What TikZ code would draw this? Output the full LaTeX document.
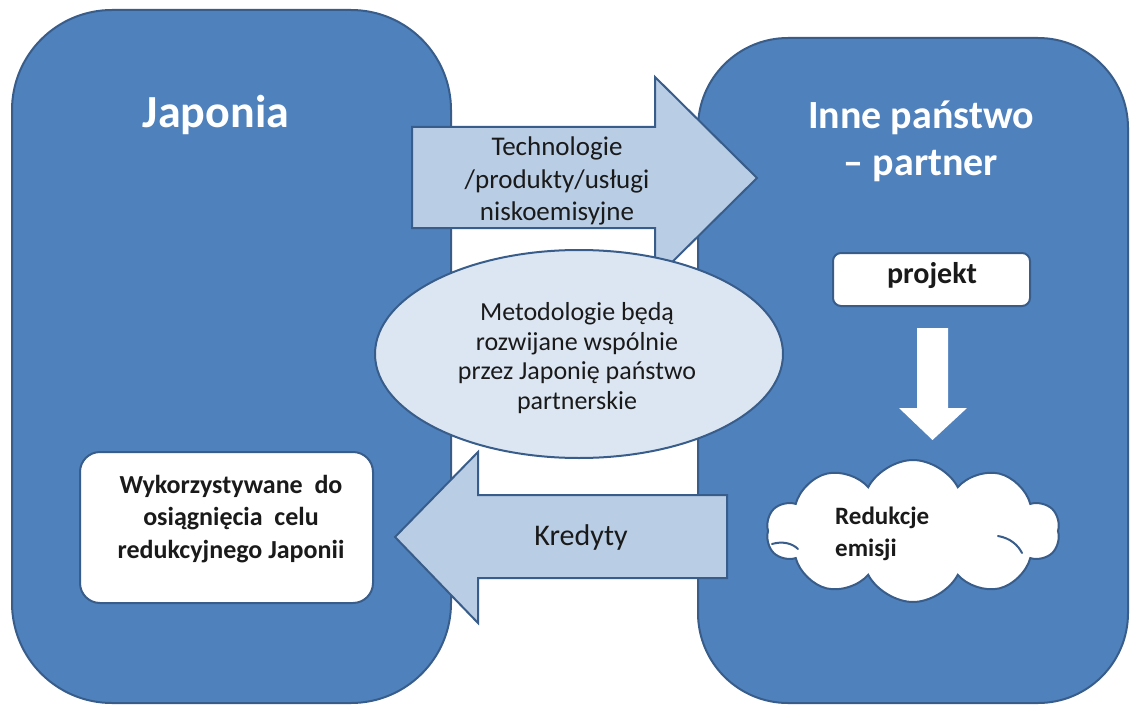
\documentclass[tikz,border=0pt]{standalone}
\usepackage{fontspec}
\setmainfont{Carlito}
\usetikzlibrary{shapes.geometric,shapes.symbols}
\definecolor{boxblue}{HTML}{4F81BD}
\definecolor{boxedge}{HTML}{385D8A}
\definecolor{arrowfill}{HTML}{B9CDE5}
\definecolor{ellfill}{HTML}{DCE6F2}
\definecolor{txt}{HTML}{1A1A1A}
\begin{document}
\begin{tikzpicture}[x=1pt,y=-1pt,
  bigbox/.style={draw=boxedge, fill=boxblue, line width=2pt, inner sep=0pt},
  whitebox/.style={draw=boxedge, fill=white, line width=2pt, inner sep=0pt},
  bigarrow/.style={draw=boxedge, fill=arrowfill, line width=2pt, line join=miter},
  cloudarc/.style={draw=boxedge, line width=2pt, line cap=round},
  title/.style={text=white, font=\fontsize{46}{52}\selectfont\bfseries, inner sep=0pt},
  bodytext/.style={text=txt, font=\fontsize{27}{32.5}\selectfont, inner sep=0pt, align=center},
  boldtext/.style={text=txt, font=\fontsize{26}{32.5}\selectfont\bfseries, inner sep=0pt, align=center}
]
\path[use as bounding box, fill=white] (0,0) rectangle (1132,706);

% big boxes
\node[bigbox, rounded corners=100pt, minimum width=439pt, minimum height=693pt] (jp) at (231.5,356.5) {};
\node[bigbox, rounded corners=90pt, minimum width=430pt, minimum height=665pt] (pt) at (913,370.5) {};

% titles
\node[title, anchor=base] (jpt) at (216,128) {Japonia};
\node[title, font=\fontsize{40}{47}\selectfont\bfseries, align=center] (ptt) at (921,141) {Inne państwo\\– partner};

% right arrow
\draw[bigarrow] (412,127) -- (655,127) -- (655,77) -- (757,178) -- (655,279) -- (655,228) -- (412,228) -- cycle;
\node[bodytext] (tech) at (557,181) {Technologie\\/produkty/usługi\\niskoemisyjne};

% left arrow
\draw[bigarrow] (727,495) -- (478,495) -- (478,452) -- (395,537) -- (478,623) -- (478,578) -- (727,578) -- cycle;
\node[bodytext, font=\fontsize{30}{36}\selectfont, anchor=base] (kred) at (581,545) {Kredyty};

% ellipse
\node[ellipse, draw=boxedge, fill=ellfill, line width=2pt, minimum width=408pt, minimum height=208pt, inner sep=0pt] (el) at (579,354) {};
\node[bodytext, font=\fontsize{26}{29.7}\selectfont] (elt) at (577,358) {Metodologie będą\\rozwijane wspólnie\\przez Japonię państwo\\partnerskie};

% Japan inner box
\node[whitebox, rounded corners=20pt, minimum width=293pt, minimum height=151pt] (wyk) at (226.5,527.5) {};
\node[boldtext] (wykt) at (231,519) {Wykorzystywane\ \ do\\osiągnięcia\ \ celu\\redukcyjnego Japonii};

% projekt box
\node[whitebox, rounded corners=8pt, minimum width=197pt, minimum height=53pt] (proj) at (931.5,279.5) {};
\node[boldtext, font=\fontsize{30}{36}\selectfont\bfseries, anchor=base] (projt) at (932,283) {projekt};

% white down arrow
\fill[white] (917,328) -- (948,328) -- (948,408) -- (967,408) -- (932.5,440) -- (899,408) -- (917,408) -- cycle;

% cloud
\node[cloud, cloud puffs=10, cloud puff arc=125, aspect=2.1, draw=boxedge, fill=white, line width=2pt, minimum width=293pt, minimum height=142pt, inner sep=0pt] (cl) at (913,531) {};
\draw[cloudarc] (772,544) .. controls (782,541) and (792,543) .. (798,549);
\draw[cloudarc] (998,536) .. controls (1010,538) and (1018,545) .. (1022,553);
\node[boldtext, font=\fontsize{25}{32}\selectfont\bfseries, align=left, anchor=west] (clt) at (835,534) {Redukcje\\emisji};
\end{tikzpicture}
\end{document}
